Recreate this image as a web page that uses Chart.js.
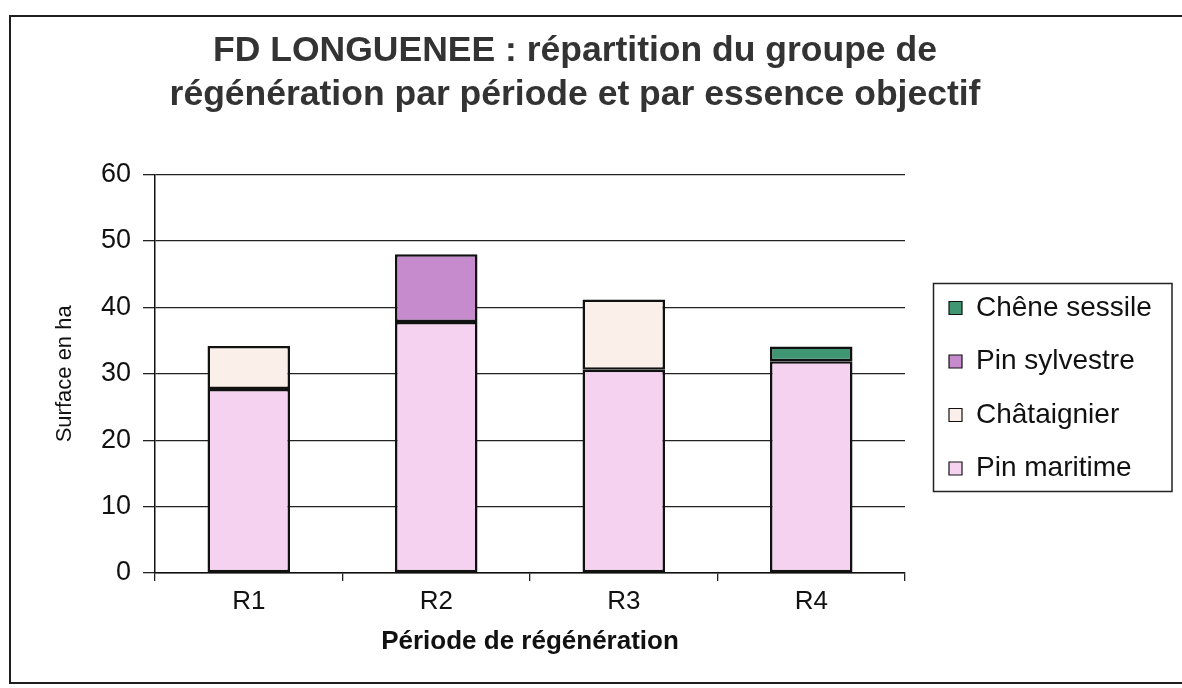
<!DOCTYPE html>
<html>
<head>
<meta charset="utf-8">
<script src="https://cdn.jsdelivr.net/npm/chart.js@4/dist/chart.umd.min.js"></script>
<style>
  html, body { margin: 0; padding: 0; background: #fff; overflow: hidden; }
  #frame { position: absolute; left: 9px; top: 15px; width: 1200px; height: 665px; border: 2px solid #1e1e1e; }
  #wrap { position: absolute; left: 0; top: 0; width: 1182px; height: 688px; }
</style>
</head>
<body>
<div id="frame"></div>
<div id="wrap"><canvas id="c" width="1182" height="688"></canvas></div>
<script>
// ---- data ----
const categories = ['R1', 'R2', 'R3', 'R4'];
const pinMaritime  = [27.7, 37.8, 30.6, 31.9];
const chataignier  = [6.5, null, 10.6, null];
const pinSylvestre = [null, 10.2, null, null];
const cheneSessile = [null, null, null, 2.2];
const seriesNames = ['Pin maritime', 'Châtaignier', 'Pin sylvestre', 'Chêne sessile'];
const yTicks = [0, 10, 20, 30, 40, 50, 60];
const titleLines = ['FD LONGUENEE : répartition du groupe de', 'régénération par période et par essence objectif'];
const xTitle = 'Période de régénération';
const yTitle = 'Surface en ha';

const FONT = "'Liberation Sans', Arial, Helvetica, sans-serif";
const colors = ['#f6d2f1', '#fbefe9', '#c68bcd', '#3e9672'];
const seriesData = [pinMaritime, chataignier, pinSylvestre, cheneSessile];

const datasets = seriesNames.map((name, i) => ({
  label: name,
  data: seriesData[i],
  backgroundColor: colors[i],
  borderColor: '#111',
  borderWidth: 2.5,
  borderSkipped: false,
  barPercentage: 0.44,
  categoryPercentage: 1.0
}));

const legendBoxPlugin = {
  id: 'legendBox',
  afterLayout(chart) {
    const lg = chart.legend;
    if (!lg) return;
    const P = chart.options.plugins.legend.labels.padding;
    lg.left = 949 - P;
    lg.right = 1172;
    lg.top = 267;
    lg.bottom = 509.5;
  },
  afterDraw(chart) {
    const ctx = chart.ctx;
    ctx.save();
    ctx.strokeStyle = '#222';
    ctx.lineWidth = 1.5;
    ctx.strokeRect(933.5, 283.5, 1172 - 933.5, 208);
    ctx.restore();
  }
};

new Chart(document.getElementById('c'), {
  type: 'bar',
  data: { labels: categories, datasets },
  options: {
    responsive: false,
    animation: false,
    devicePixelRatio: 1,
    layout: { autoPadding: false, padding: { left: 0, right: 32, top: 0, bottom: 0 } },
    plugins: {
      title: {
        display: true,
        text: titleLines,
        color: '#333',
        font: { family: FONT, size: 35.5, weight: 'bold', lineHeight: 1.22 },
        padding: { top: 30, bottom: 58 }
      },
      legend: {
        display: true,
        position: 'chartArea',
        reverse: true,
        labels: {
          color: '#111',
          font: { family: FONT, size: 28 },
          boxWidth: 13,
          boxHeight: 13,
          padding: 25.5,
          generateLabels(chart) {
            const items = Chart.defaults.plugins.legend.labels.generateLabels(chart);
            items.forEach(it => { it.lineWidth = 1.2; });
            return items;
          }
        }
      },
      tooltip: { enabled: false }
    },
    scales: {
      x: {
        stacked: true,
        grid: { display: true, drawOnChartArea: false, drawTicks: true, tickLength: 8, color: '#222', lineWidth: 1.3, offset: true },
        border: { display: true, color: '#111', width: 1.5 },
        ticks: { color: '#111', font: { family: FONT, size: 26 }, padding: 5 },
        title: { display: true, text: xTitle, color: '#111', font: { family: FONT, size: 26, weight: 'bold' }, padding: { top: 31, bottom: 31 } },
        afterFit(scale) { scale.height = 688 - 573; }
      },
      y: {
        stacked: true,
        min: 0,
        max: 60,
        afterBuildTicks(scale) { scale.ticks = yTicks.map(v => ({ value: v })); },
        grid: { color: '#222', lineWidth: 1.3, drawTicks: true, tickLength: 12 },
        border: { display: true, color: '#111', width: 1.5 },
        ticks: { color: '#111', font: { family: FONT, size: 27 }, padding: 12 },
        title: { display: true, text: yTitle, color: '#111', font: { family: FONT, size: 22 }, padding: { top: 52, bottom: 52 } },
        afterFit(scale) { scale.width = 155; }
      },
      spacer: {
        type: 'linear',
        position: 'right',
        display: true,
        grid: { display: false, drawTicks: false },
        border: { display: false },
        ticks: { display: false },
        title: { display: false },
        afterFit(scale) { scale.width = 1182 - 32 - 905; }
      }
    }
  },
  plugins: [legendBoxPlugin]
});
</script>
</body>
</html>
